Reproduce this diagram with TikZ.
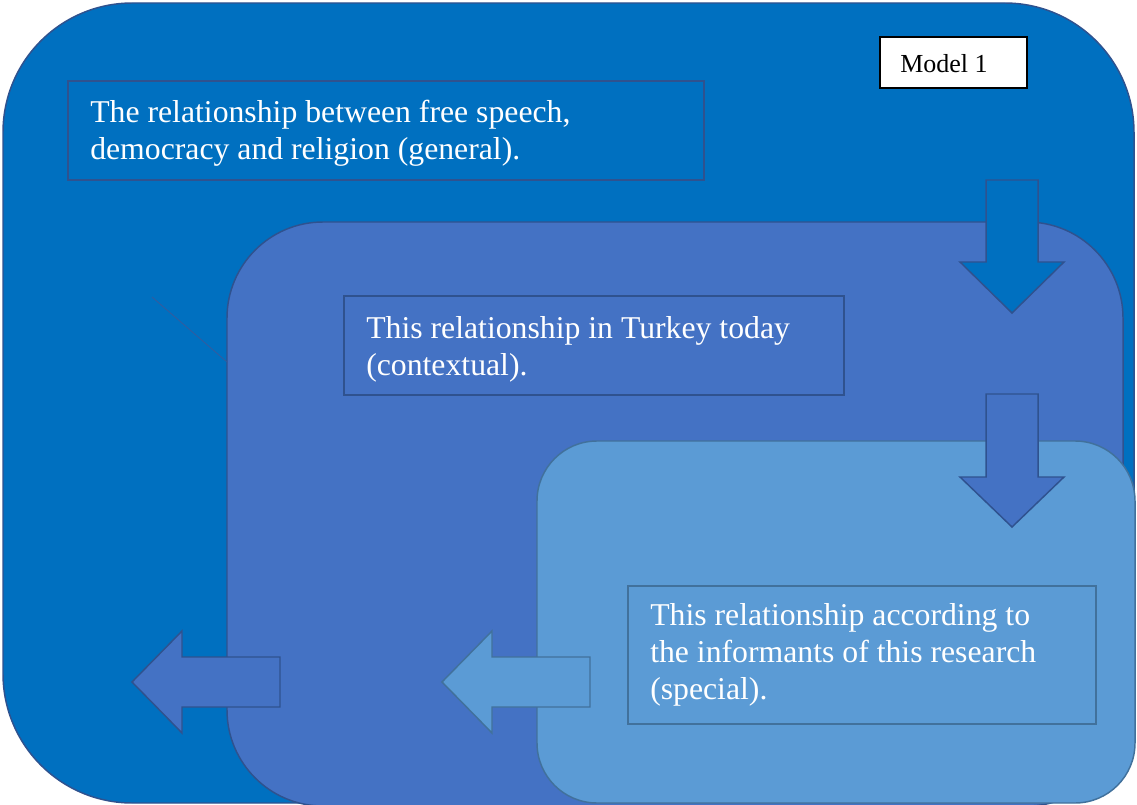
\documentclass[tikz,border=0pt]{standalone}
\usepackage{fontspec}
\setmainfont{Liberation Serif}
\definecolor{outerfill}{HTML}{0070C0}
\definecolor{midfill}{HTML}{4472C4}
\definecolor{innerfill}{HTML}{5B9BD5}
\definecolor{darkedge}{HTML}{2F528F}
\definecolor{lightedge}{HTML}{41719C}
\tikzset{
  panel/.style={line width=1.1pt},
  labelbox/.style={line width=1.1pt},
  bigtext/.style={anchor=base west, inner sep=0pt, align=left, text=white,
    font=\fontsize{23.8pt}{27.4pt}\selectfont},
  blockarrow/.style={line width=1.1pt, line join=miter}
}
\begin{document}
\begin{tikzpicture}[x=0.75pt,y=-0.75pt]
\useasboundingbox (0,0) rectangle (1137,805);
% outer panel
\draw[panel, fill=outerfill, draw=darkedge, rounded corners=97pt] (3,3) rectangle (1134,803);
\draw[labelbox, fill=outerfill, draw=darkedge] (68,81) rectangle (704,180);
\node[bigtext] (t1) at (90,159.3) {The relationship between free speech,\\democracy and religion (general).};
\draw[line width=0.8pt, fill=white, draw=black] (880,37) rectangle (1027,88);
\node[anchor=base west, inner sep=0pt, font=\fontsize{19.5pt}{22pt}\selectfont] (model) at (900,72.5) {Model 1};
% middle panel
\draw[panel, fill=midfill, draw=darkedge, rounded corners=72pt] (227,222) rectangle (1123,806);
\draw[line width=0.6pt, draw=midfill!80!black] (152,297) -- (227,362);
% down arrow 1
\draw[blockarrow, fill=outerfill, draw=darkedge] (986,180) -- (1038,180) -- (1038,262) -- (1064,262) -- (1012,313) -- (960,262) -- (986,262) -- cycle;
\draw[labelbox, fill=midfill, draw=darkedge] (344,296) rectangle (844,395);
\node[bigtext] (t2) at (366,375.5) {This relationship in Turkey today\\(contextual).};
% inner panel
\draw[panel, fill=innerfill, draw=lightedge, rounded corners=45pt] (537,441) rectangle (1135,803);
% down arrow 2
\draw[blockarrow, fill=midfill, draw=darkedge] (986,394) -- (1038,394) -- (1038,477) -- (1064,477) -- (1012,527) -- (960,477) -- (986,477) -- cycle;
\draw[labelbox, fill=innerfill, draw=lightedge] (628,586) rectangle (1096,724);
\node[bigtext] (t3) at (650,699) {This relationship according to\\the informants of this research\\(special).};
% left arrows
\draw[blockarrow, fill=midfill, draw=darkedge] (280,657) -- (280,707) -- (182,707) -- (182,733) -- (132,682) -- (182,631) -- (182,657) -- cycle;
\draw[blockarrow, fill=innerfill, draw=lightedge] (590,657) -- (590,707) -- (492,707) -- (492,733) -- (442,682) -- (492,631) -- (492,657) -- cycle;
\end{tikzpicture}
\end{document}
